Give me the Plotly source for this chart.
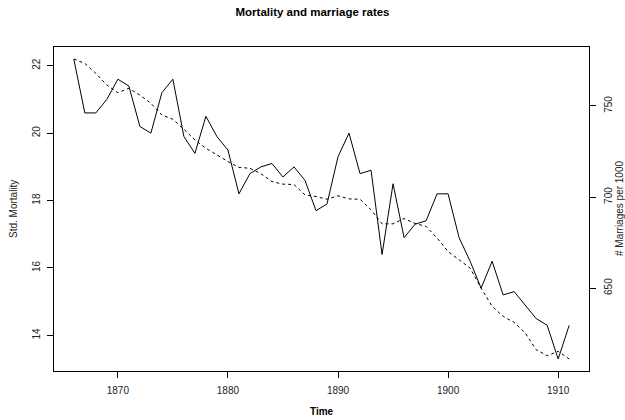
import plotly.graph_objects as go

years = list(range(1866, 1912))
mortality = [22.2, 20.6, 20.6, 21.0, 21.6, 21.4, 20.2, 20.0, 21.2, 21.6,
             19.9, 19.4, 20.5, 19.9, 19.5, 18.2, 18.8, 19.0, 19.1, 18.7,
             19.0, 18.6, 17.7, 17.9, 19.3, 20.0, 18.8, 18.9, 16.4, 18.5,
             16.9, 17.3, 17.4, 18.2, 18.2, 16.9, 16.2, 15.4, 16.2, 15.2,
             15.3, 14.9, 14.5, 14.3, 13.3, 14.3]
marriages = [775.8, 773.4, 767.9, 761.5, 757.3, 759.7, 756.0, 751.5, 745.1, 742.7,
             737.2, 731.4, 726.8, 723.1, 719.5, 716.3, 715.8, 712.8, 708.5, 707.1,
             706.9, 701.2, 700.3, 698.8, 700.7, 699.0, 698.8, 693.0, 685.3, 685.3,
             688.2, 685.5, 683.9, 677.5, 670.1, 665.6, 661.0, 650.0, 640.0, 634.5,
             631.2, 625.4, 616.2, 612.9, 615.3, 611.1]
x_ticks = [1870, 1880, 1890, 1900, 1910]
y_ticks = [14, 16, 18, 20, 22]
y2_ticks = [650, 700, 750]


def r_range(v):
    lo, hi = min(v), max(v)
    d = (hi - lo) * 0.04
    return [lo - d, hi + d]


FONT = "Liberation Sans, Arial, Helvetica, sans-serif"
W, H = 625, 420
ML, MR, MT, MB = 54, 36, 47, 49
PW, PH = W - ML - MR, H - MT - MB

fig = go.Figure()
fig.add_trace(go.Scatter(x=years, y=mortality, mode="lines",
                         line=dict(color="black", width=1),
                         yaxis="y", showlegend=False, hoverinfo="skip"))
fig.add_trace(go.Scatter(x=years, y=marriages, mode="lines",
                         line=dict(color="black", width=1, dash="3px,3px"),
                         yaxis="y2", showlegend=False, hoverinfo="skip"))

axis_common = dict(showgrid=False, zeroline=False, ticks="outside", ticklen=6,
                   tickcolor="black", tickwidth=1, linecolor="black", linewidth=1,
                   showline=True, tickfont=dict(family=FONT, size=10, color="#222"))

fig.update_layout(
    width=W, height=H,
    margin=dict(l=ML, r=MR, t=MT, b=MB),
    plot_bgcolor="white", paper_bgcolor="white",
    xaxis=dict(range=r_range(years), tickvals=x_ticks, mirror=True,
               ticklabelstandoff=4, **axis_common),
    yaxis=dict(range=r_range(mortality), tickvals=y_ticks, tickangle=-90,
               mirror=True, ticklabelstandoff=3, **axis_common),
    yaxis2=dict(range=r_range(marriages), tickvals=y2_ticks, tickangle=-90,
                overlaying="y", side="right", ticklabelstandoff=4, **axis_common),
    title=dict(text="<b>Mortality and marriage rates</b>", x=0.5, xanchor="center",
               y=1 - 11.5 / H, yanchor="middle",
               font=dict(family=FONT, size=11.5, color="black")),
    annotations=[
        dict(text="<b>Time</b>", xref="paper", x=0.5, yref="paper",
             y=(H - MB - 412) / PH, yanchor="middle", showarrow=False,
             font=dict(family=FONT, size=10, color="black")),
        dict(text="Std. Mortality", xref="paper", x=(13 - ML) / PW, xanchor="center",
             yref="paper", y=0.5, showarrow=False, textangle=-90,
             font=dict(family=FONT, size=10, color="#222")),
        dict(text="# Marriages per 1000", xref="paper", x=(619 - ML) / PW,
             xanchor="center", yref="paper", y=0.5, showarrow=False, textangle=-90,
             font=dict(family=FONT, size=10, color="#222")),
    ],
)

fig.write_html("out.html", config={"displayModeBar": False},
               post_script="document.body.style.margin='0';document.body.style.overflow='hidden';")
